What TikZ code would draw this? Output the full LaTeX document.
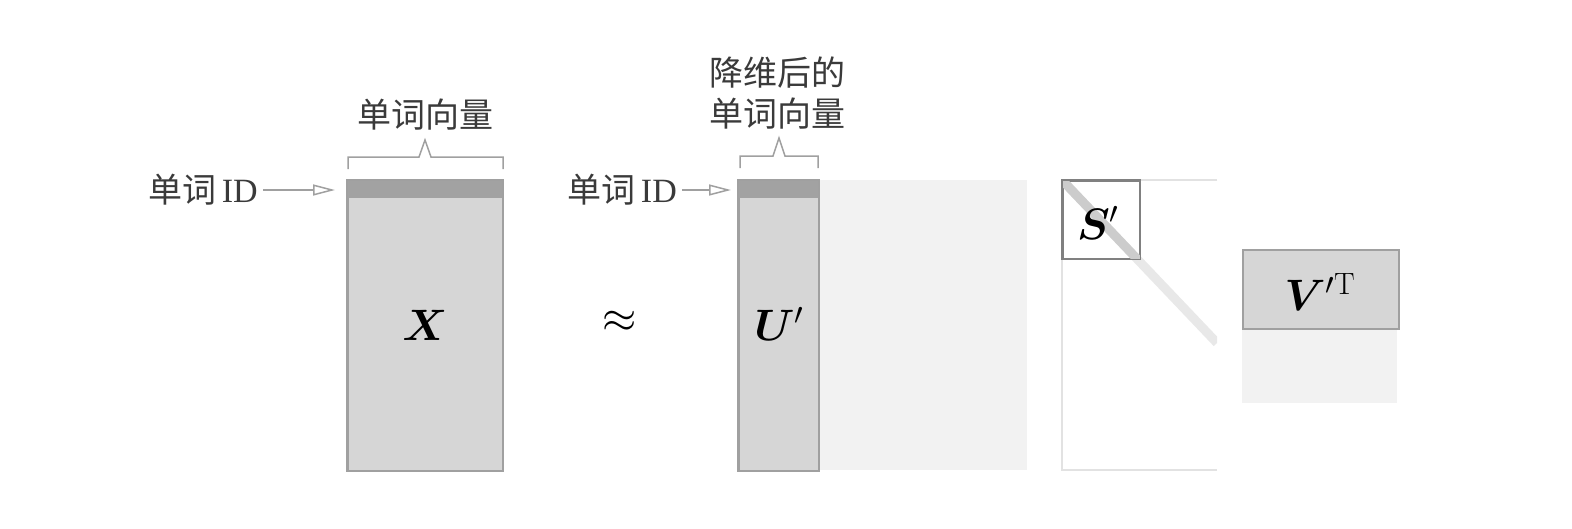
\RequirePackage{fix-cm}
\documentclass[tikz,border=0pt]{standalone}
\usepackage{amsmath}
\usepackage{bm}
\usepackage{fontspec}
\newfontfamily\cjk{Noto Sans CJK SC}
\newfontfamily\latinserif{Liberation Serif}
\usetikzlibrary{arrows.meta}
\definecolor{edgegray}{HTML}{A0A0A0}
\definecolor{fillgray}{HTML}{D6D6D6}
\definecolor{bandgray}{HTML}{A2A2A2}
\definecolor{lightgray2}{HTML}{F2F2F2}
\definecolor{faintline}{HTML}{E2E2E2}
\definecolor{textgray}{HTML}{3A3A3A}
\tikzset{
  txt/.style={inner sep=0pt, text=textgray, font=\fontsize{34}{40}\selectfont},
  mlabel/.style={inner sep=0pt, font=\fontsize{44}{50}\selectfont},
  matbox/.style={draw=edgegray, line width=1.5pt, fill=fillgray, inner sep=0pt, anchor=north west},
  lightbox/.style={fill=lightgray2, inner sep=0pt, anchor=north west},
  idarrow/.style={draw=edgegray, line width=1.5pt, -{Triangle[open, length=22pt, width=11pt]}},
  brace/.style={draw=edgegray, line width=1.5pt, line join=miter},
}
\begin{document}
\begin{tikzpicture}[x=1pt, y=-1pt]
\useasboundingbox (0,0) rectangle (1572,528);
\fill[white] (0,0) rectangle (1572,528);

% ---- X ----
\node[matbox, minimum width=155pt, minimum height=290pt] (X) at (347,180) {};
\node[fill=bandgray, inner sep=0pt, anchor=north west, minimum width=155pt, minimum height=18pt] (Xband) at (347,180) {};
\draw[edgegray, line width=1.5pt] (X.north west) rectangle (X.south east);
\node[mlabel] (Xl) at (425,325) {$\bm{X}$};
\node[txt] (wv1) at (425,115) {\cjk 单词向量};
\coordinate (b1a) at (348,169);
\coordinate (b1b) at (503,169);
\draw[brace] (b1a) -- ++(0,-12) -- (419,157) -- (425,140) -- (431,157) -- (503,157) -- (b1b);
\node[txt, anchor=east] (id1) at (258,190) {\cjk 单词\,\latinserif ID};
\draw[idarrow] (id1.east) ++(5,0) -- ([xshift=-12pt]X.north west |- id1);

% ---- approx ----
\node[mlabel] (approx) at (620,322) {$\approx$};

% ---- U' ----
\node[lightbox, minimum width=209pt, minimum height=290pt] (Ulight) at (818,180) {};
\node[matbox, minimum width=80pt, minimum height=290pt] (U) at (738,180) {};
\node[fill=bandgray, inner sep=0pt, anchor=north west, minimum width=80pt, minimum height=18pt] (Uband) at (738,180) {};
\draw[edgegray, line width=1.5pt] (U.north west) rectangle (U.south east);
\node[mlabel] (Ul) at (779,324) {$\bm{U}'$};
\node[txt] (red) at (777,73) {\cjk 降维后的};
\node[txt] (wv2) at (777,114) {\cjk 单词向量};
\coordinate (b2a) at (740,168);
\coordinate (b2b) at (818,168);
\draw[brace] (b2a) -- ++(0,-12) -- (773,156) -- (779,138) -- (785,156) -- (818,156) -- (b2b);
\node[txt, anchor=east] (id2) at (677,190) {\cjk 单词\,\latinserif ID};
\draw[idarrow] (id2.east) ++(5,0) -- ([xshift=-7pt]U.north west |- id2);

% ---- S' ----
\coordinate (Snw) at (1062,180);
\coordinate (Sne) at (1217,180);
\coordinate (Ssw) at (1062,470);
\coordinate (Sse) at (1217,470);
\begin{scope}
\clip (Snw) rectangle (Sse);
\draw[line width=9pt, color=black!9] (Snw) -- (1217,343);
\end{scope}
\draw[faintline, line width=1.5pt] (Sne) -- (Snw) -- (Ssw) -- (Sse);
\node[draw=edgegray!80!black, line width=1.5pt, inner sep=0pt, anchor=north west, minimum width=77pt, minimum height=78pt] (S) at (1062,180) {};
\begin{scope}
\clip (S.north west) rectangle (S.south east);
\draw[line width=9pt, color=black!20] (Snw) -- (1217,343);
\end{scope}
\draw[draw=edgegray!80!black, line width=1.5pt] (S.north west) rectangle (S.south east);
\node[mlabel] (Sl) at (1098,223) {$\bm{S}'$};

% ---- V'T ----
\node[lightbox, minimum width=155pt, minimum height=75pt] (Vlight) at (1242,328) {};
\node[matbox, minimum width=156pt, minimum height=79pt] (V) at (1242,249) {};
\node[mlabel] (Vl) at (1320,292) {$\bm{V}'^{\mathrm{T}}$};
\end{tikzpicture}
\end{document}
